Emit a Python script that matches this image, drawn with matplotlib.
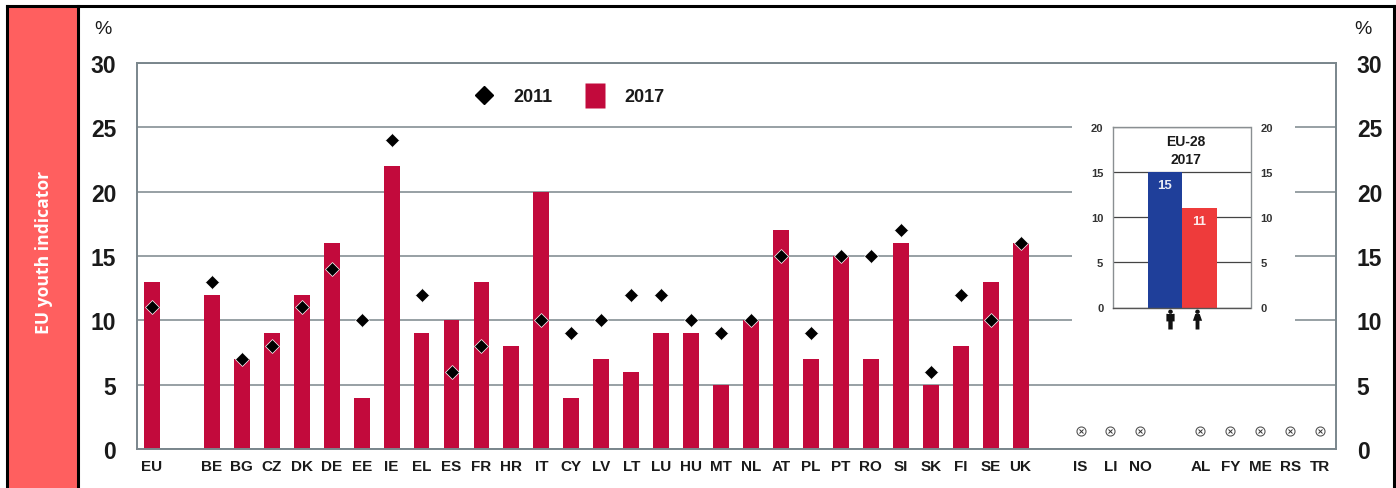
import numpy as np
import matplotlib
matplotlib.use("Agg")
import matplotlib.pyplot as plt
from matplotlib.lines import Line2D
from matplotlib.patches import Rectangle
from matplotlib.path import Path
from matplotlib.transforms import blended_transform_factory

# ---- data ----
categories = ["EU", "", "BE", "BG", "CZ", "DK", "DE", "EE", "IE", "EL", "ES", "FR", "HR", "IT", "CY",
              "LV", "LT", "LU", "HU", "MT", "NL", "AT", "PL", "PT", "RO", "SI", "SK", "FI", "SE", "UK",
              "", "IS", "LI", "NO", "", "AL", "FY", "ME", "RS", "TR"]
nan = float("nan")
values_2017 = [13, nan, 12, 7, 9, 12, 16, 4, 22, 9, 10, 13, 8, 20, 4,
               7, 6, 9, 9, 5, 10, 17, 7, 15, 7, 16, 5, 8, 13, 16,
               nan, nan, nan, nan, nan, nan, nan, nan, nan, nan]
values_2011 = [11, nan, 13, 7, 8, 11, 14, 10, 24, 12, 6, 8, nan, 10, 9,
               10, 12, 12, 10, 9, 10, 15, 9, 15, 15, 17, 6, 12, 10, 16,
               nan, nan, nan, nan, nan, nan, nan, nan, nan, nan]
na_categories = ["IS", "LI", "NO", "AL", "FY", "ME", "RS", "TR"]
na_level = 1.4
y_ticks = [0, 5, 10, 15, 20, 25, 30]
inset_values = [15, 11]
inset_ticks = [0, 5, 10, 15, 20]

W, H = 1396, 489
plt.rcParams["font.family"] = ["Liberation Sans"]
CRIMSON, GRID, DARK = "#C20A3C", "#7A868C", "#1a1a1a"


def box(x0, y0, x1, y1):
    return [x0 / W, 1 - y1 / H, (x1 - x0) / W, (y1 - y0) / H]


fig = plt.figure(figsize=(W / 100, H / 100), dpi=100, facecolor="white")

# outer frame and side panel
fig.add_artist(Rectangle((8 / W, 0), 69 / W, 1 - 8 / H, transform=fig.transFigure,
                         facecolor="#FF5F5F", edgecolor="none"))
for xs, ys in [((7, 7), (7, H)), ((7, 1394), (7, 7)), ((1394, 1394), (7, H)), ((77.5, 77.5), (7, H))]:
    fig.add_artist(Line2D([x / W for x in xs], [1 - y / H for y in ys], color="black", lw=2.2,
                          transform=fig.transFigure, solid_capstyle="projecting"))
fig.text(44 / W, 1 - 252 / H, "EU youth indicator", rotation=90, color="white", fontsize=12.6,
         fontweight="bold", family="Open Sans", ha="center", va="center")
fig.text(94 / W, 1 - 29 / H, "%", fontsize=14, color=DARK, ha="left", va="center")
fig.text(1354 / W, 1 - 29 / H, "%", fontsize=14, color=DARK, ha="left", va="center")

# main chart
ax = fig.add_axes(box(137, 64, 1336, 450), zorder=1)
pos = np.arange(len(categories))
ax.set_xlim(-0.5, len(categories) - 0.47)
ax.set_ylim(0, 30)
ax.set_axisbelow(True)
ax.yaxis.grid(True, color=GRID, lw=1.1)
ax.bar(pos, values_2017, width=0.53, color=CRIMSON, zorder=2)
ax.plot(pos, values_2011, ls="none", marker="D", ms=7, mfc="black", mec="white", mew=0.5, zorder=3)
na_pos = [categories.index(c) for c in na_categories]
ax.plot(na_pos, [na_level] * len(na_pos), ls="none", marker="o", ms=6.5, mfc="white", mec="#555555", mew=0.8, zorder=3)
ax.plot(na_pos, [na_level] * len(na_pos), ls="none", marker="x", ms=3, mec="#333333", mew=0.7, zorder=4)
ax.set_xticks(pos, categories)
ax.set_yticks(y_ticks)
ax.tick_params(axis="x", length=0, pad=7, labelsize=11, labelcolor=DARK)
ax.tick_params(axis="y", length=0, pad=15, labelsize=16.5, labelcolor=DARK, labelleft=True, labelright=True)
for lab in ax.get_xticklabels():
    lab.set_fontweight("bold")
for t in ax.yaxis.get_major_ticks():
    t.label1.set_fontweight("bold")
    t.label2.set_fontweight("bold")
for s in ax.spines.values():
    s.set_color(GRID)
    s.set_linewidth(1.4)

tall_square = Path([(-0.4, -0.5), (0.4, -0.5), (0.4, 0.5), (-0.4, 0.5), (-0.4, -0.5)], closed=True)
handles = [Line2D([], [], ls="none", marker="D", ms=9.2, mfc="black", mec="black", label="2011"),
           Line2D([], [], ls="none", marker=tall_square, ms=18, mfc=CRIMSON, mec="none", label="2017")]
leg = ax.legend(handles=handles, ncols=2, frameon=False, loc="center left",
                bbox_to_anchor=((471 - 137) / 1199, (450 - 98) / 386), prop={"weight": "bold", "size": 13},
                handletextpad=0.95, columnspacing=1.65, handlelength=1.4, borderpad=0, borderaxespad=0)
for t in leg.get_texts():
    t.set_color(DARK)

# white mask behind the inset
mask = fig.add_axes(box(1072, 118, 1295, 336), zorder=2)
mask.axis("off")
mask.add_patch(Rectangle((0, 0), 1, 1, transform=mask.transAxes, color="white"))

# inset chart
ins = fig.add_axes(box(1113, 127.5, 1250.5, 308.5), zorder=3)
ipos = np.arange(len(inset_values))
ins.set_xlim(-1.507, 2.478)
ins.set_ylim(0, 20)
ins.set_axisbelow(True)
ins.yaxis.grid(True, color="#444444", lw=0.9)
bars = ins.bar(ipos, inset_values, width=1.0, color=["#1F3F9A", "#EE3B3B"], zorder=2)
for b, v in zip(bars, inset_values):
    ins.annotate(str(v), (b.get_x() + b.get_width() / 2, v), xytext=(0, -5), textcoords="offset points",
                 ha="center", va="top", color="white", fontsize=9.5, fontweight="bold", alpha=0.9)
ins.text(0.53, 0.87, "EU-28\n2017", transform=ins.transAxes, ha="center", va="center",
         fontsize=10, fontweight="bold", color=DARK, linespacing=1.3)
ins.set_xticks([])
ins.set_yticks(inset_ticks)
ins.tick_params(axis="y", length=0, pad=7, labelsize=8, labelcolor="#333333", labelleft=True, labelright=True)
for t in ins.yaxis.get_major_ticks():
    t.label1.set_fontweight("bold")
    t.label2.set_fontweight("bold")
for s in ins.spines.values():
    s.set_color("#8a8f92")
    s.set_linewidth(1.0)
ins.spines["bottom"].set_color("#555555")


def person(female=False):
    th = np.linspace(0, 2 * np.pi, 16)[:-1]
    head = Path(np.r_[np.c_[0.18 * np.cos(th), 0.6 + 0.18 * np.sin(th)], [[0.18, 0.6]]], closed=True)
    if female:
        pts = [(-0.17, 0.44), (0.17, 0.44), (0.36, -0.1), (0.15, -0.1), (0.15, -0.78), (-0.15, -0.78),
               (-0.15, -0.1), (-0.36, -0.1), (-0.17, 0.44)]
    else:
        pts = [(-0.32, 0.44), (0.32, 0.44), (0.32, -0.15), (0.17, -0.15), (0.17, -0.78), (-0.17, -0.78),
               (-0.17, -0.15), (-0.32, -0.15), (-0.32, 0.44)]
    return Path.make_compound_path(head, Path(pts, closed=True))


itrans = blended_transform_factory(ins.transData, ins.transAxes)
icon_shift = [0.14, -0.07]
for p, shift, female in zip(ipos, icon_shift, [False, True]):
    ins.plot([p + shift], [-0.0635], marker=person(female), ms=14.4, mfc="#111111", mec="none", ls="none",
             transform=itrans, clip_on=False)

fig.savefig("out.png", dpi=100)
